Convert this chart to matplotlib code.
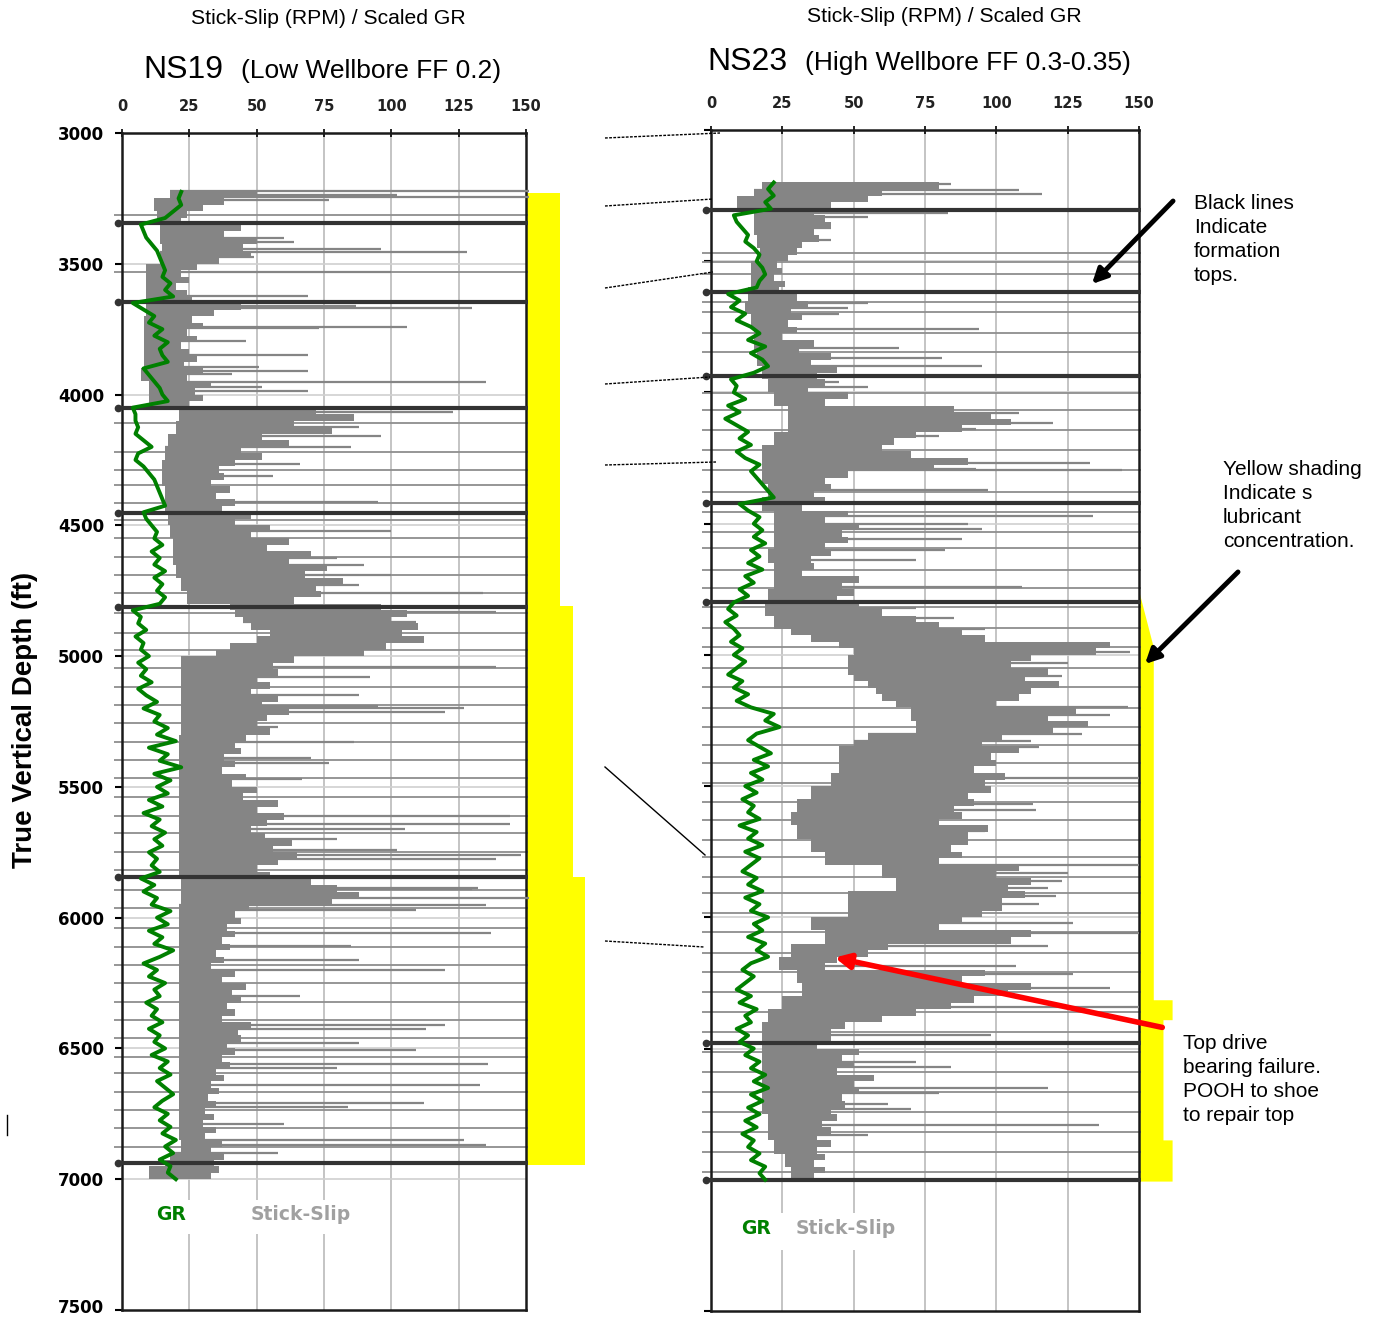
import numpy as np
import matplotlib
matplotlib.use("Agg")
import matplotlib.pyplot as plt
import matplotlib.transforms as mtransforms
from matplotlib.patches import Rectangle

plt.rcParams['font.family'] = ['Liberation Sans', 'DejaVu Sans']

W, H = 1383, 1317
STEP = 25  # log sampling used for the hand-read curves (ft)

# ---------------- NS19 (left well) ----------------
ns19_gr_start = 3225
ns19_gr = [22, 21, 22, 19, 16, 7, 8, 9, 11, 13, 14, 15, 16, 15, 18, 16, 19, 4, 8, 12,
           10, 15, 12, 17, 14, 15, 17, 8, 10, 12, 14, 15, 17, 4, 5, 5, 6, 5, 8, 11,
           6, 5, 8, 10, 12, 13, 14, 15, 16, 8, 9, 11, 13, 12, 15, 11, 14, 12, 16, 12,
           15, 13, 16, 14, 4, 7, 6, 9, 5, 8, 7, 10, 6, 9, 7, 11, 6, 9, 13, 8,
           14, 12, 17, 13, 20, 10, 17, 14, 22, 12, 18, 13, 17, 10, 15, 8, 14, 11, 16, 12,
           15, 10, 13, 11, 14, 7, 12, 8, 13, 11, 18, 13, 17, 10, 15, 12, 19, 14, 8, 13,
           10, 16, 12, 14, 9, 13, 11, 15, 10, 14, 12, 16, 11, 17, 14, 18, 13, 16, 19, 15,
           12, 17, 14, 18, 15, 20, 16, 19, 14, 18, 17, 20]

# dense stick-slip core, one low/high RPM pair per 25 ft from 3225 ft
ns19_band_start = 3225
ns19_band_lo = [18, 12, 12, 13, 13, 14, 14, 14, 15, 14, 14, 9, 9, 9, 9, 9, 9, 9, 9, 8,
                8, 8, 8, 8, 8, 8, 8, 7, 7, 10, 10, 10, 10, 21, 21, 20, 20, 17, 17, 16,
                16, 15, 15, 15, 15, 16, 16, 16, 16, 17, 17, 18, 18, 19, 19, 19, 19, 20, 20, 22,
                22, 24, 24, 40, 42, 45, 48, 55, 50, 40, 35, 22, 22, 22, 22, 22, 22, 22, 22, 22,
                22, 22, 22, 21, 21, 21, 21, 21, 21, 21, 21, 21, 21, 21, 21, 21, 21, 21, 21, 21,
                21, 21, 21, 21, 21, 22, 22, 22, 22, 21, 21, 21, 21, 21, 21, 21, 21, 21, 21, 21,
                21, 21, 21, 21, 21, 21, 21, 21, 21, 21, 21, 21, 21, 21, 21, 21, 21, 21, 21, 21,
                21, 21, 21, 21, 21, 22, 22, 18, 16, 10, 10]
ns19_band_hi = [50, 38, 30, 24, 22, 44, 38, 50, 45, 48, 36, 28, 22, 25, 20, 24, 26, 44, 34, 26,
                30, 24, 28, 22, 25, 28, 23, 30, 24, 33, 27, 30, 25, 72, 86, 64, 78, 52, 62, 44,
                52, 42, 36, 38, 33, 40, 35, 42, 37, 48, 42, 55, 48, 62, 54, 70, 62, 76, 68, 82,
                72, 74, 64, 96, 106, 100, 110, 104, 112, 98, 90, 64, 56, 58, 50, 55, 48, 58, 52, 62,
                54, 50, 55, 46, 42, 44, 38, 42, 37, 46, 41, 50, 45, 58, 50, 60, 54, 48, 53, 63,
                56, 65, 58, 50, 55, 70, 80, 88, 78, 47, 42, 44, 39, 42, 37, 40, 35, 38, 33, 42,
                37, 46, 41, 44, 39, 42, 37, 48, 43, 44, 39, 42, 37, 40, 35, 38, 33, 36, 32, 35,
                31, 34, 30, 35, 31, 37, 33, 38, 34, 36, 33]

# isolated stick-slip spikes
ns19_spike_depth = [3222, 3237, 3245, 3255, 3400, 3415, 3445, 3455, 3475, 3530, 3625, 3660, 3668,
                    3740, 3745, 3795, 3850, 3895, 3910, 3920, 3952, 3970, 3985, 4065, 4125, 4160,
                    4200, 4265, 4310, 4410, 4520, 4560, 4625, 4650, 4690, 4730, 4760, 4830, 4870,
                    4920, 5040, 5080, 5150, 5190, 5200, 5215, 5270, 5330, 5390, 5410, 5470, 5610,
                    5640, 5660, 5700, 5740, 5760, 5775, 5885, 5890, 5925, 5950, 5970, 6060, 6110,
                    6160, 6200, 6300, 6410, 6425, 6480, 6505, 6560, 6575, 6640, 6710, 6725, 6790,
                    6850, 6870, 6900]
ns19_spike_val = [151, 102, 151, 77, 60, 64, 96, 128, 49, 100, 69, 87, 130, 106, 73, 46, 69, 51,
                  69, 41, 135, 52, 69, 123, 88, 96, 85, 66, 56, 95, 100, 52, 80, 90, 100, 88, 134,
                  139, 109, 100, 139, 92, 88, 95, 127, 120, 58, 86, 70, 77, 67, 144, 144, 105, 80,
                  102, 148, 139, 132, 130, 151, 135, 109, 137, 85, 88, 120, 66, 120, 113, 88, 109,
                  136, 80, 133, 112, 84, 60, 127, 135, 58]

# stick-slip readings pegged at full scale
ns19_full = [3313, 3533, 4108, 4219, 4289, 4346, 4414, 4480, 4548, 4620, 4690, 4759, 4835, 4911,
             4976, 5046, 5118, 5187, 5256, 5328, 5397, 5466, 5538, 5611, 5677, 5748, 5817, 5894,
             5963, 6039, 6111, 6180, 6249, 6322, 6391, 6460, 6532, 6593, 6666, 6735, 6804, 6877]

ns19_tops = [3345, 3646, 4051, 4453, 4812, 5844, 6937]

ns19_lube_depth = [3229, 4808, 4808, 5844, 5844, 6945]
ns19_lube_level = [162.6, 162.6, 167.5, 167.5, 171.9, 171.9]

# ---------------- NS23 (right well) ----------------
ns23_gr_start = 3200
ns23_gr = [22, 20, 22, 19, 21, 8, 9, 11, 13, 12, 15, 17, 16, 18, 19, 17, 16, 6, 10, 7,
           12, 9, 14, 17, 13, 19, 14, 18, 20, 15, 7, 9, 8, 12, 6, 10, 5, 9, 13, 10,
           14, 9, 12, 17, 14, 16, 18, 20, 22, 10, 13, 17, 15, 18, 15, 19, 14, 17, 13, 18,
           12, 15, 10, 13, 8, 6, 9, 5, 8, 10, 7, 11, 8, 12, 9, 6, 11, 8, 13, 9,
           14, 22, 19, 24, 16, 13, 17, 21, 15, 20, 14, 18, 12, 16, 11, 15, 13, 17, 10, 16,
           13, 18, 12, 17, 14, 11, 16, 13, 18, 12, 17, 14, 20, 15, 18, 13, 19, 16, 20, 14,
           11, 15, 12, 9, 14, 10, 16, 12, 14, 9, 13, 10, 15, 12, 17, 14, 19, 15, 20, 14,
           18, 13, 17, 12, 16, 11, 15, 13, 17, 14, 19, 17, 19]

ns23_band_start = 3200
ns23_band_lo = [18, 15, 9, 9, 15, 15, 15, 15, 16, 16, 17, 17, 14, 14, 14, 14, 13, 13, 12, 12,
                14, 14, 15, 15, 15, 15, 16, 16, 18, 18, 20, 20, 22, 22, 27, 27, 27, 27, 22, 22,
                18, 18, 18, 18, 18, 18, 20, 20, 18, 18, 22, 22, 22, 22, 22, 22, 20, 20, 22, 22,
                22, 22, 20, 20, 19, 19, 22, 22, 28, 35, 45, 50, 48, 48, 48, 50, 55, 58, 60, 65,
                70, 70, 72, 72, 55, 50, 45, 45, 45, 45, 42, 42, 35, 35, 30, 30, 28, 28, 30, 30,
                35, 35, 40, 40, 60, 60, 65, 65, 48, 48, 48, 48, 35, 35, 40, 40, 28, 28, 24, 24,
                30, 30, 32, 32, 25, 25, 20, 20, 18, 18, 18, 18, 18, 18, 18, 18, 18, 18, 18, 18,
                18, 18, 20, 20, 20, 20, 22, 22, 26, 26, 28, 28]
ns23_band_hi = [80, 60, 55, 42, 36, 40, 42, 36, 38, 32, 30, 27, 23, 25, 22, 26, 24, 30, 34, 28,
                32, 27, 30, 25, 36, 31, 42, 35, 44, 37, 40, 34, 48, 40, 85, 98, 105, 88, 72, 64,
                60, 70, 90, 78, 48, 40, 42, 36, 40, 32, 48, 40, 52, 46, 48, 40, 42, 35, 36, 32,
                52, 46, 50, 44, 52, 60, 72, 80, 88, 96, 140, 135, 112, 105, 118, 110, 122, 112, 108, 100,
                128, 118, 132, 120, 102, 95, 108, 98, 100, 92, 103, 96, 98, 90, 92, 85, 88, 80, 97, 90,
                90, 84, 88, 80, 108, 100, 112, 104, 110, 102, 102, 95, 88, 80, 112, 105, 62, 55, 44, 40,
                96, 88, 112, 104, 92, 84, 72, 60, 47, 42, 42, 37, 52, 46, 50, 44, 57, 50, 52, 46,
                47, 42, 44, 39, 42, 37, 42, 37, 40, 36, 40, 36]

ns23_spike_depth = [3205, 3230, 3245, 3315, 3330, 3375, 3420, 3660, 3680, 3700, 3760, 3830, 3870,
                    3900, 3960, 3980, 4080, 4115, 4140, 4165, 4270, 4295, 4290, 4370, 4410, 4470,
                    4500, 4520, 4560, 4600, 4640, 4740, 4820, 4860, 4900, 4990, 5030, 5080, 5200,
                    5230, 5300, 5330, 5350, 5470, 5570, 5590, 5670, 5800, 5830, 5860, 5890, 5920,
                    5950, 6020, 6060, 6110, 6185, 6215, 6270, 6340, 6450, 6550, 6570, 6650, 6670,
                    6710, 6730, 6790, 6830]
ns23_spike_val = [84, 108, 116, 83, 55, 42, 42, 55, 48, 45, 94, 66, 81, 95, 45, 55, 108, 120, 93,
                  80, 133, 144, 93, 97, 36, 134, 90, 95, 88, 82, 72, 109, 72, 85, 96, 147, 125,
                  123, 146, 140, 130, 112, 115, 150, 113, 114, 96, 150, 125, 123, 118, 121, 115,
                  127, 150, 118, 107, 127, 140, 150, 98, 72, 84, 118, 80, 62, 70, 136, 55]

ns23_full = [3469, 3503, 3549, 3655, 3693, 3773, 3845, 4002, 4067, 4143, 4219, 4295, 4379, 4455,
             4531, 4592, 4676, 4745, 4817, 4897, 4970, 5050, 5122, 5202, 5274, 5343, 5411, 5488,
             5560, 5629, 5705, 5770, 5846, 5907, 5983, 6055, 6135, 6208, 6284, 6360, 6436, 6512,
             6589, 6665, 6741, 6817, 6893, 6970]

ns23_tops = [3305, 3617, 3937, 4421, 4798, 6478, 7000]

ns23_lube_depth = [4760, 4970, 6314, 6314, 6390, 6390, 6848, 6848, 7005]
ns23_lube_level = [150, 155, 155, 161.6, 161.6, 158.4, 158.4, 161.6, 161.6]

GREEN = '#008000'
GREY = '#858585'


def px_box(x0, y0, x1, y1):
    # pixel box (top-left origin) -> figure fraction rect
    return [x0 / W, 1 - y1 / H, (x1 - x0) / W, (y1 - y0) / H]


def plot_log(ax, gr_start, gr, band_start, band_lo, band_hi, spike_d, spike_v, full, tops,
             lube_d, lube_v, ytick_labels, legend_pos, gap_box):
    ax.set_xlim(0, 150)
    ax.set_ylim(7500, 3000)

    # grid
    for x in [25, 50, 75, 100, 125]:
        ax.axvline(x, color='#c4c4c4', lw=1.4, zorder=0.5)
    for y in range(3500, 7500, 500):
        ax.axhline(y, color='#d0d0d0', lw=1.2, zorder=0.5)
    ax.add_patch(Rectangle((gap_box[0], gap_box[2]), gap_box[1] - gap_box[0], gap_box[3] - gap_box[2],
                           facecolor='white', edgecolor='none', zorder=0.8))

    # lubricant shading outside the track
    ax.fill_betweenx(lube_d, 150, lube_v, color='#ffff00', lw=0, clip_on=False, zorder=1)

    # pegged stick-slip lines
    ax.hlines(full, -3, 150.8, color='#8e8e8e', lw=1.3, clip_on=False, zorder=2)

    # stick-slip core
    bd = band_start + STEP * np.arange(len(band_lo) + 1)
    lo = np.append(band_lo, band_lo[-1])
    hi = np.append(band_hi, band_hi[-1])
    ax.fill_betweenx(bd, lo, hi, step='post', color=GREY, lw=0, zorder=3)
    idx = np.clip(np.searchsorted(bd, spike_d, side='right') - 1, 0, len(band_lo) - 1)
    starts = np.array(band_lo)[idx]
    ax.hlines(spike_d, starts, spike_v, color=GREY, lw=1.6, zorder=3, clip_on=False)

    # formation tops
    ax.hlines(tops, -1.6, 150.8, color='#333333', lw=3, clip_on=False, zorder=4)
    ax.plot([-1.6] * len(tops), tops, 'o', color='#333333', ms=4.5, clip_on=False, zorder=4)

    # gamma ray
    depth = gr_start + STEP * np.arange(len(gr))
    ax.plot(gr, depth, color=GREEN, lw=2.8, zorder=5)

    # legend-like labels inside the track
    ax.text(legend_pos[0], legend_pos[2], 'GR', color=GREEN, fontsize=13.5, fontweight='bold',
            family='DejaVu Sans', ha='center', va='center', zorder=6)
    ax.text(legend_pos[1], legend_pos[2], 'Stick-Slip', color='#a0a0a0', fontsize=13.5,
            fontweight='bold', family='DejaVu Sans', ha='center', va='center', zorder=6)

    ax.xaxis.tick_top()
    ax.set_xticks([0, 25, 50, 75, 100, 125, 150])
    ax.tick_params(axis='x', direction='inout', length=6, width=1.2, pad=11, labelsize=10.5)
    for lab in ax.get_xticklabels():
        lab.set_family('DejaVu Sans')
        lab.set_fontweight('bold')
        lab.set_color('#222222')
    ax.set_yticks(range(3000, 7501, 500))
    ax.tick_params(axis='y', direction='out', length=5, width=1.5, pad=8)
    if ytick_labels:
        ax.set_yticklabels([str(v) for v in range(3000, 7501, 500)], family='DejaVu Sans',
                           fontsize=12, fontweight='bold')
        # keep the bottom label inside the canvas
        last = ax.get_yticklabels()[-1]
        last.set_transform(last.get_transform() + mtransforms.ScaledTranslation(0, 4 / 100, ax.figure.dpi_scale_trans))
    else:
        ax.set_yticklabels([])
    for s in ax.spines.values():
        s.set_linewidth(1.8)
        s.set_color('#1a1a1a')


fig = plt.figure(figsize=(W / 100, H / 100), dpi=100)

ax_l = fig.add_axes(px_box(122, 133, 526, 1310))
plot_log(ax_l, ns19_gr_start, ns19_gr, ns19_band_start, ns19_band_lo, ns19_band_hi,
         ns19_spike_depth, ns19_spike_val, ns19_full, ns19_tops, ns19_lube_depth, ns19_lube_level,
         True, (18.2, 66.5, 7136), (6, 90, 7080, 7210))

ax_r = fig.add_axes(px_box(711, 130, 1139, 1311))
plot_log(ax_r, ns23_gr_start, ns23_gr, ns23_band_start, ns23_band_lo, ns23_band_hi,
         ns23_spike_depth, ns23_spike_val, ns23_full, ns23_tops, ns23_lube_depth, ns23_lube_level,
         False, (15.8, 47.3, 7187), (4, 62, 7126, 7267))

# overlay in pixel coordinates for titles and annotations
ov = fig.add_axes([0, 0, 1, 1], zorder=10)
ov.set_xlim(0, W)
ov.set_ylim(H, 0)
ov.axis('off')
ov.patch.set_alpha(0)

ov.text(328, 18, 'Stick-Slip (RPM) / Scaled GR', ha='center', va='center', fontsize=15.2)
ov.text(944, 16, 'Stick-Slip (RPM) / Scaled GR', ha='center', va='center', fontsize=15.2)
ov.text(143, 70, 'NS19', ha='left', va='center', fontsize=23)
ov.text(241, 71, '(Low Wellbore FF 0.2)', ha='left', va='center', fontsize=19)
ov.text(707, 62, 'NS23', ha='left', va='center', fontsize=23)
ov.text(805, 63, '(High Wellbore FF 0.3-0.35)', ha='left', va='center', fontsize=19)

ov.text(25, 720, 'True Vertical Depth (ft)', rotation=90, ha='center', va='center',
        fontsize=20, fontweight='bold')

ov.text(1194, 194, 'Black lines\nIndicate\nformation\ntops.', ha='left', va='top',
        fontsize=15, linespacing=1.33)
ov.text(1223, 460, 'Yellow shading\nIndicate s\nlubricant\nconcentration.', ha='left', va='top',
        fontsize=15, linespacing=1.33)
ov.text(1183, 1034, 'Top drive\nbearing failure.\nPOOH to shoe\nto repair top', ha='left',
        va='top', fontsize=15, linespacing=1.33)

ov.annotate('', xy=(1090, 286), xytext=(1175, 199),
            arrowprops=dict(arrowstyle='-|>', lw=3.5, color='black', mutation_scale=22))
ov.annotate('', xy=(1143, 666), xytext=(1240, 570),
            arrowprops=dict(arrowstyle='-|>', lw=3.5, color='black', mutation_scale=22))
ov.annotate('', xy=(832, 957), xytext=(1165, 1028),
            arrowprops=dict(arrowstyle='-|>', lw=4, color='#ff0000', mutation_scale=22))

# dotted links between the two wells' tops
links = [((605, 138), (720, 133)), ((605, 206), (713, 199)), ((605, 288), (713, 272)),
         ((605, 384), (710, 377)), ((605, 465), (716, 462)), ((605, 941), (704, 947))]
for (x0, y0), (x1, y1) in links:
    ov.plot([x0, x1], [y0, y1], color='black', lw=1, ls=(0, (2, 1)))
ov.plot([605, 705], [767, 855], color='black', lw=1)
ov.plot([7, 7], [1115, 1135], color='black', lw=1)

fig.savefig('out.png', dpi=100)
